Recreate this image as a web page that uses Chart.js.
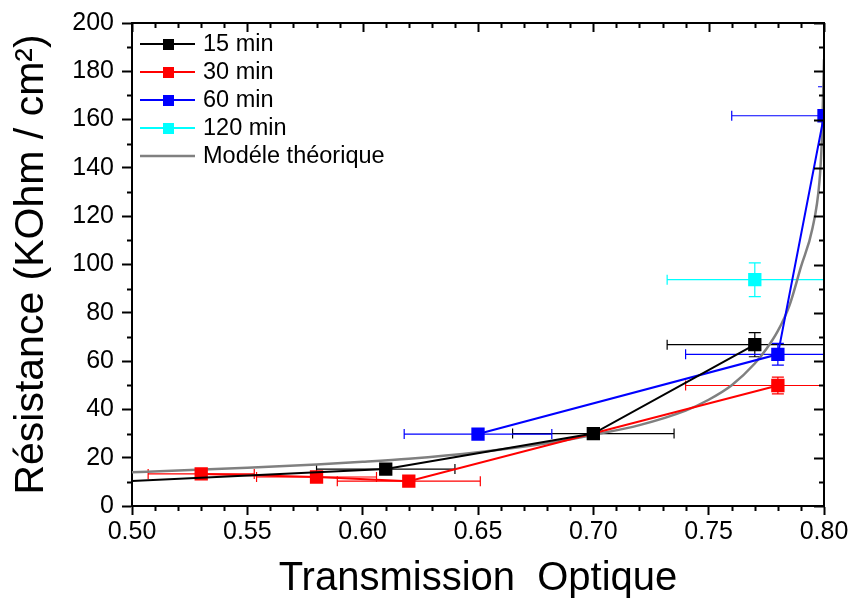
<!DOCTYPE html>
<html><head><meta charset="utf-8">
<script src="https://cdn.jsdelivr.net/npm/chart.js@4.4.0/dist/chart.umd.min.js"></script>
<style>html,body{margin:0;padding:0;background:#fff;}</style>
</head><body>
<canvas id="c" width="853" height="604"></canvas>
<script>
// ---- tick labels ----
const xTickValues = [0.50, 0.55, 0.60, 0.65, 0.70, 0.75, 0.80];
const yTickValues = [0, 20, 40, 60, 80, 100, 120, 140, 160, 180, 200];

// ---- series: 15 min ----
const x15 = [0.48, 0.61, 0.70, 0.77];
const y15 = [9.4, 15.3, 30.0, 66.8];
const xErr15 = [0, 0.030, 0.035, 0.038];
const yErr15 = [0, 1.5, 2.0, 5.0];

// ---- series: 30 min ----
const x30 = [0.53, 0.58, 0.62, 0.78];
const y30 = [13.3, 12.0, 10.3, 49.9];
const xErr30 = [0.023, 0.026, 0.031, 0.040];
const yErr30 = [1.5, 1.5, 1.5, 3.5];

// ---- series: 60 min ----
const x60 = [0.65, 0.78, 0.80];
const y60 = [29.8, 62.8, 161.6];
const xErr60 = [0.032, 0.040, 0.040];
const yErr60 = [1.5, 4.5, 12.0];

// ---- series: 120 min ----
const x120 = [0.77];
const y120 = [93.7];
const xErr120 = [0.038];
const yErr120 = [7.0];

// ---- theoretical model ----
const xModel = [0.50, 0.52, 0.55, 0.58, 0.60, 0.62, 0.65, 0.68, 0.70, 0.72, 0.74, 0.75, 0.76, 0.77, 0.775, 0.78, 0.785, 0.79, 0.795, 0.798, 0.799, 0.7995, 0.80];
const yModel = [14.0, 14.7, 15.8, 17.2, 18.3, 19.6, 22.3, 26.0, 29.5, 33.5, 39.5, 44.0, 50.0, 59.0, 65.0, 72.5, 83.0, 99.0, 115.0, 134.0, 150.0, 166.0, 185.0];

const seriesNames = ['15 min', '30 min', '60 min', '120 min', 'Modéle théorique'];
const seriesColors = ['#000000', '#ff0000', '#0000ff', '#00ffff', '#808080'];

const pts = (xs, ys) => xs.map((x, i) => ({x: x, y: ys[i]}));
const FONT = "'Liberation Sans', Arial, Helvetica, sans-serif";

const errorSets = [
  {xe: xErr15, ye: yErr15},
  {xe: xErr30, ye: yErr30},
  {xe: xErr60, ye: yErr60},
  {xe: xErr120, ye: yErr120},
  null
];

const errorBarPlugin = {
  id: 'errorBars',
  beforeDatasetsDraw(chart) {
    const ctx = chart.ctx, xs = chart.scales.x, ys = chart.scales.y, a = chart.chartArea;
    ctx.save();
    ctx.beginPath();
    ctx.rect(a.left, a.top, a.right - a.left, a.bottom - a.top);
    ctx.clip();
    ctx.lineWidth = 1.2;
    chart.data.datasets.forEach((ds, di) => {
      const e = errorSets[di];
      if (!e) return;
      ctx.strokeStyle = ds.borderColor;
      ds.data.forEach((p, i) => {
        const px = xs.getPixelForValue(p.x), py = ys.getPixelForValue(p.y);
        const cap = 5;
        if (e.xe[i] > 0) {
          const l = xs.getPixelForValue(p.x - e.xe[i]), r = xs.getPixelForValue(p.x + e.xe[i]);
          ctx.beginPath();
          ctx.moveTo(l, py); ctx.lineTo(r, py);
          ctx.moveTo(l, py - cap); ctx.lineTo(l, py + cap);
          ctx.moveTo(r, py - cap); ctx.lineTo(r, py + cap);
          ctx.stroke();
        }
        if (e.ye[i] > 0) {
          const t = ys.getPixelForValue(p.y + e.ye[i]), b = ys.getPixelForValue(p.y - e.ye[i]);
          ctx.beginPath();
          ctx.moveTo(px, t); ctx.lineTo(px, b);
          ctx.moveTo(px - cap - 1, t); ctx.lineTo(px + cap + 1, t);
          ctx.moveTo(px - cap - 1, b); ctx.lineTo(px + cap + 1, b);
          ctx.stroke();
        }
      });
    });
    ctx.restore();
  }
};

const frameTicksPlugin = {
  id: 'frameTicks',
  afterDraw(chart) {
    const ctx = chart.ctx, xs = chart.scales.x, ys = chart.scales.y, a = chart.chartArea;
    ctx.save();
    ctx.strokeStyle = '#000';
    ctx.lineWidth = 2;
    // top and right frame lines
    ctx.beginPath();
    ctx.moveTo(a.left, a.top); ctx.lineTo(a.right + 1, a.top);
    ctx.moveTo(a.right, a.top); ctx.lineTo(a.right, a.bottom + 1);
    ctx.stroke();
    // x ticks: minor outward bottom, inward top (major & minor)
    for (let k = 0; k <= 30; k++) {
      const v = 0.5 + k * 0.01;
      const px = Math.round(xs.getPixelForValue(v)) + 0.5;
      const major = k % 5 === 0;
      ctx.beginPath();
      if (!major) { ctx.moveTo(px, a.bottom); ctx.lineTo(px, a.bottom + 5); }
      ctx.moveTo(px, a.top); ctx.lineTo(px, a.top + (major ? 9 : 5));
      ctx.stroke();
    }
    // y ticks: minor outward left, inward right
    for (let k = 0; k <= 20; k++) {
      const v = k * 10;
      const py = Math.round(ys.getPixelForValue(v)) + 0.5;
      const major = k % 2 === 0;
      ctx.beginPath();
      if (!major) { ctx.moveTo(a.left, py); ctx.lineTo(a.left - 5, py); }
      ctx.moveTo(a.right, py); ctx.lineTo(a.right - (major ? 10 : 5), py);
      ctx.stroke();
    }
    // legend
    const rows = [44, 72, 100, 128, 156];
    ctx.font = '23.5px ' + FONT;
    ctx.textBaseline = 'middle';
    ctx.textAlign = 'left';
    chart.data.datasets.forEach((ds, i) => {
      const y = rows[i];
      ctx.strokeStyle = ds.borderColor;
      ctx.lineWidth = ds.borderWidth;
      ctx.beginPath(); ctx.moveTo(140, y); ctx.lineTo(195, y); ctx.stroke();
      if (i < 4) {
        ctx.fillStyle = ds.borderColor;
        ctx.fillRect(163, y - 5, 11, 11);
      }
      ctx.fillStyle = '#000';
      ctx.fillText(seriesNames[i], 203, y + 1);
    });
    ctx.restore();
  }
};

const mkSeries = (i, xs, ys, radii) => ({
  label: seriesNames[i],
  data: pts(xs, ys),
  showLine: true,
  borderColor: seriesColors[i],
  backgroundColor: seriesColors[i],
  borderWidth: 2,
  pointStyle: 'rect',
  pointRadius: radii,
  tension: 0,
  clip: 0
});

new Chart(document.getElementById('c'), {
  type: 'scatter',
  data: {
    datasets: [
      mkSeries(0, x15, y15, [0, 8, 8, 8]),
      mkSeries(1, x30, y30, 8),
      mkSeries(2, x60, y60, 8),
      mkSeries(3, x120, y120, 8),
      {
        label: seriesNames[4],
        data: pts(xModel, yModel),
        showLine: true,
        borderColor: seriesColors[4],
        backgroundColor: seriesColors[4],
        borderWidth: 2.5,
        pointRadius: 0,
        cubicInterpolationMode: 'monotone',
        clip: 0
      }
    ]
  },
  options: {
    responsive: false,
    animation: false,
    events: [],
    devicePixelRatio: 1,
    layout: {padding: {top: 21, right: 29, left: 0, bottom: 0}},
    plugins: {legend: {display: false}, tooltip: {enabled: false}},
    scales: {
      x: {
        type: 'linear', position: 'bottom', min: 0.5, max: 0.8,
        afterBuildTicks: s => { s.ticks = xTickValues.map(v => ({value: v})); },
        afterFit: s => { s.height = 98; },
        ticks: {
          callback: v => Number(v).toFixed(2),
          font: {size: 25, family: FONT}, color: '#000', padding: 2,
          maxRotation: 0, autoSkip: false
        },
        grid: {display: true, drawOnChartArea: false, drawTicks: true, tickLength: 9, tickColor: '#000', tickWidth: 2},
        border: {display: true, color: '#000', width: 2},
        title: {display: true, text: 'Transmission  Optique', color: '#000',
          font: {size: 40, family: FONT}, padding: {top: 0, bottom: 1}}
      },
      y: {
        type: 'linear', position: 'left', min: 0, max: 200,
        afterBuildTicks: s => { s.ticks = yTickValues.map(v => ({value: v})); },
        afterFit: s => { s.width = 132; },
        ticks: {font: {size: 25, family: FONT}, color: '#000', padding: 8},
        grid: {display: true, drawOnChartArea: false, drawTicks: true, tickLength: 10, tickColor: '#000', tickWidth: 2},
        border: {display: true, color: '#000', width: 2},
        title: {display: true, text: 'Résistance (KOhm / cm²)', color: '#000',
          font: {size: 41, family: FONT}, padding: {top: 7, bottom: 0}}
      }
    }
  },
  plugins: [errorBarPlugin, frameTicksPlugin]
});
</script>
</body></html>
